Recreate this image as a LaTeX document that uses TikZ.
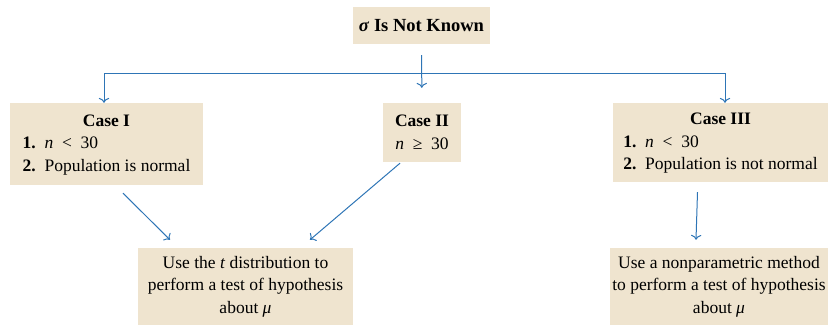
\documentclass[tikz,border=0pt]{standalone}
\usepackage{fontspec}
\setmainfont{Liberation Serif}
\usetikzlibrary{positioning, arrows.meta}
\definecolor{beige}{RGB}{239,228,207}
\definecolor{arrowblue}{RGB}{46,117,182}

\begin{document}
\begin{tikzpicture}[x=1pt, y=-1pt, font=\fontsize{17.5}{22.5}\selectfont]
        \tikzstyle{box} = [fill=beige, inner sep=0pt, align=center]
        \tikzstyle{pointer} = [-{To[scale=1.3]}, draw=arrowblue, line width=1pt]
        \useasboundingbox (0,0) rectangle (830,325);
        \node[box, minimum width=137pt, minimum height=37pt, font=\fontsize{18.5}{22}\selectfont] (top) at (421.5,25.5) {\textbf{\textit{σ}} \textbf{Is Not Known}};
        \node[box, minimum width=193pt, minimum height=82pt] (case1) at (106.5,144)
            {\begin{tabular}{@{}l@{}}\multicolumn{1}{c}{\textbf{Case I}}\\ \textbf{1.}\ \ \textit{n}~~<~~30\\ \textbf{2.}\ \ Population is normal\end{tabular}};
        \node[box, minimum width=78pt, minimum height=59pt] (case2) at (422,132.5)
            {\textbf{Case II}\\ \textit{n}~~≥~~30};
        \node[box, minimum width=215pt, minimum height=79pt] (case3) at (720.5,142.5)
            {\begin{tabular}{@{}l@{}}\multicolumn{1}{c}{\textbf{Case III}}\\ \textbf{1.}\ \ \textit{n}~~<~~30\\ \textbf{2.}\ \ Population is not normal\end{tabular}};
        \node[box, minimum width=215pt, minimum height=77pt] (res1) at (245.5,286.5)
            {Use the \textit{t} distribution to\\ perform a test of hypothesis\\ about \textit{μ}};
        \node[box, minimum width=218pt, minimum height=77pt] (res2) at (719,286.5)
            {Use a nonparametric method\\ to perform a test of hypothesis\\ about \textit{μ}};
        \coordinate (split) at (422,73);
        \draw[pointer, shorten <=11pt, shorten >=15pt] (top) -- (case2);
        \draw[pointer] (split) -| ([xshift=-2.5pt]case1.north);
        \draw[pointer] (split) -| ([xshift=4.5pt]case3.north);
        \draw[pointer] ([xshift=16.5pt,yshift=-8pt]case1.south) -- ([xshift=-75.5pt,yshift=8pt]res1.north);
        \draw[pointer] ([xshift=-22pt,yshift=-1pt]case2.south) -- ([xshift=64.5pt,yshift=8pt]res1.north);
        \draw[pointer] ([xshift=-23pt,yshift=-10pt]case3.south) -- ([xshift=-23pt,yshift=8pt]res2.north);
    \end{tikzpicture}
\end{document}
